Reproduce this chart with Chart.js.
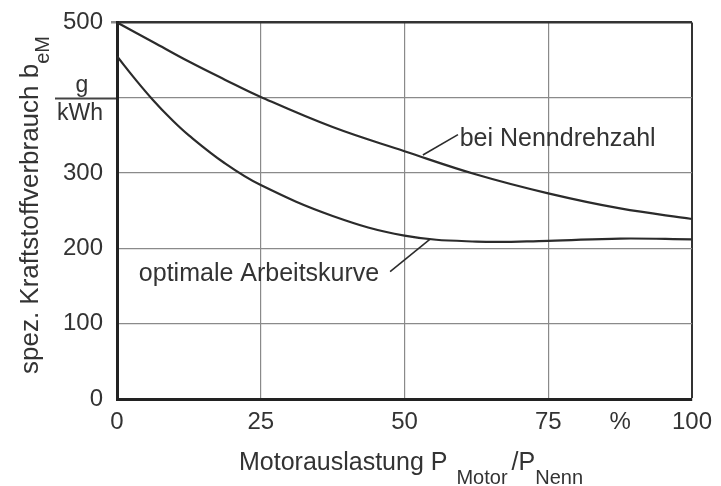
<!DOCTYPE html>
<html>
<head>
<meta charset="utf-8">
<script src="https://cdn.jsdelivr.net/npm/chart.js@4/dist/chart.umd.min.js"></script>
<style>
  html, body { margin: 0; padding: 0; background: #fff; }
  #wrap { width: 721px; height: 486px; }
</style>
</head>
<body>
<div id="wrap"><canvas id="chart" width="721" height="486"></canvas></div>
<script>
// Motorauslastung in % (P_Motor / P_Nenn)
const loadNenn = [0, 6.25, 12.5, 18.75, 25, 37.5, 50, 62.5, 75, 87.5, 100];
const loadOpt = [0, 3.125, 6.25, 9.375, 12.5, 18.75, 25, 37.5, 50, 62.5, 75, 87.5, 100];
// spez. Kraftstoffverbrauch in g/kWh
const nennDrehzahl = [500, 474, 448, 424, 401, 361, 329, 298, 273, 253, 239];
const optimaleKurve = [455, 425, 397, 372, 350, 313, 284, 243, 217, 209, 210, 213, 212];

const xTicks = [0, 25, 50, 75, 87.5, 100];
const yTicks = [0, 100, 200, 300, 400, 500];

const FONT = '"Liberation Sans", Arial, Helvetica, sans-serif';
const INK = '#333';
const GRID = '#8a8a8a';

// labels on the curves, positions given in data units
const curveLabels = [
    { text: 'bei Nenndrehzahl', at: [59.6, 336], leader: [[53.2, 324], [59.3, 351]] },
    { text: 'optimale Arbeitskurve', at: [3.8, 157], leader: [[47.5, 169], [54.4, 212]] }
];

function toPoints(xs, ys) {
    return xs.map((x, i) => ({ x: x, y: ys[i] }));
}

// draw text parts with subscripts, centred on 0
function richText(ctx, parts, main, sub, drop) {
    let total = 0;
    parts.forEach(p => {
        ctx.font = (p.sub ? sub : main) + 'px ' + FONT;
        p.w = ctx.measureText(p.t).width;
        total += p.w + (p.gap || 0);
    });
    let x = -total / 2;
    parts.forEach(p => {
        ctx.font = (p.sub ? sub : main) + 'px ' + FONT;
        ctx.fillText(p.t, x, p.sub ? drop : 0);
        x += p.w + (p.gap || 0);
    });
}

const extras = {
    id: 'extras',
    afterDraw(chart) {
        const ctx = chart.ctx;
        const xs = chart.scales.x, ys = chart.scales.y;
        const area = chart.chartArea;
        const px = v => xs.getPixelForValue(v);
        const py = v => ys.getPixelForValue(v);

        ctx.save();
        ctx.fillStyle = INK;
        ctx.strokeStyle = '#2b2b2b';
        ctx.textBaseline = 'alphabetic';

        // curve labels + leader lines
        curveLabels.forEach(l => {
            ctx.lineWidth = 1.6;
            ctx.beginPath();
            ctx.moveTo(px(l.leader[0][0]), py(l.leader[0][1]));
            ctx.lineTo(px(l.leader[1][0]), py(l.leader[1][1]));
            ctx.stroke();
            ctx.font = '25px ' + FONT;
            ctx.textAlign = 'left';
            ctx.fillText(l.text, px(l.at[0]), py(l.at[1]));
        });

        // unit g/kWh in place of the 400 tick
        const yu = Math.round(py(400)) + 0.5;
        const cx = area.left - 37;
        ctx.strokeStyle = '#444';
        ctx.lineWidth = 2;
        ctx.beginPath();
        ctx.moveTo(area.left - 62, yu);
        ctx.lineTo(area.left - 1, yu);
        ctx.stroke();
        ctx.font = '23px ' + FONT;
        ctx.textAlign = 'center';
        ctx.fillText('g', cx + 2, yu - 7);
        ctx.fillText('kWh', cx, yu + 21);

        // x axis title
        ctx.textAlign = 'left';
        ctx.save();
        ctx.translate(411, 470);
        richText(ctx, [
            { t: 'Motorauslastung P', gap: 9 },
            { t: 'Motor', sub: true, gap: 4 },
            { t: '/P' },
            { t: 'Nenn', sub: true }
        ], 25, 20, 14);
        ctx.restore();

        // y axis title
        ctx.save();
        ctx.translate(38, 205);
        ctx.rotate(-Math.PI / 2);
        richText(ctx, [
            { t: 'spez. Kraftstoffverbrauch b' },
            { t: 'eM', sub: true }
        ], 26, 20, 11);
        ctx.restore();

        ctx.restore();
    }
};

Chart.defaults.font.family = FONT;
Chart.defaults.color = INK;

new Chart(document.getElementById('chart'), {
    type: 'line',
    data: {
        datasets: [
            {
                label: 'bei Nenndrehzahl',
                data: toPoints(loadNenn, nennDrehzahl),
                borderColor: '#2b2b2b',
                borderWidth: 2.2,
                pointRadius: 0,
                tension: 0.4,
                fill: false
            },
            {
                label: 'optimale Arbeitskurve',
                data: toPoints(loadOpt, optimaleKurve),
                borderColor: '#2b2b2b',
                borderWidth: 2.2,
                pointRadius: 0,
                tension: 0.4,
                fill: false
            }
        ]
    },
    options: {
        responsive: false,
        animation: false,
        layout: { padding: { top: 17, right: 23, left: 0, bottom: 0 } },
        plugins: {
            legend: { display: false },
            tooltip: { enabled: false }
        },
        scales: {
            x: {
                type: 'linear',
                min: 0,
                max: 100,
                afterBuildTicks: s => { s.ticks = xTicks.map(v => ({ value: v })); },
                afterFit: s => { s.height = 87; },
                ticks: {
                    font: { size: 24 },
                    color: INK,
                    padding: 9,
                    maxRotation: 0,
                    autoSkip: false,
                    callback: v => v === 87.5 ? '%' : v
                },
                grid: {
                    drawTicks: false,
                    color: c => {
                        const v = c.tick && c.tick.value;
                        if (v === 87.5) return 'transparent';
                        return v === 100 ? '#333' : GRID;
                    },
                    lineWidth: c => {
                        const v = c.tick && c.tick.value;
                        if (v === 87.5) return 0;
                        return v === 100 ? 2 : 1.2;
                    }
                },
                border: { color: '#222', width: 3 }
            },
            y: {
                min: 0,
                max: 500,
                afterBuildTicks: s => { s.ticks = yTicks.map(v => ({ value: v })); },
                afterFit: s => { s.width = 117; },
                ticks: {
                    font: { size: 24 },
                    color: INK,
                    padding: 8,
                    callback: v => v === 400 ? '' : v
                },
                grid: {
                    tickLength: 6,
                    tickColor: c => (c.tick && c.tick.value === 500) ? '#888' : 'transparent',
                    color: c => (c.tick && c.tick.value === 500) ? '#333' : GRID,
                    lineWidth: c => (c.tick && c.tick.value === 500) ? 2.5 : 1.2
                },
                border: { color: '#222', width: 3 }
            }
        }
    },
    plugins: [extras]
});
</script>
</body>
</html>
